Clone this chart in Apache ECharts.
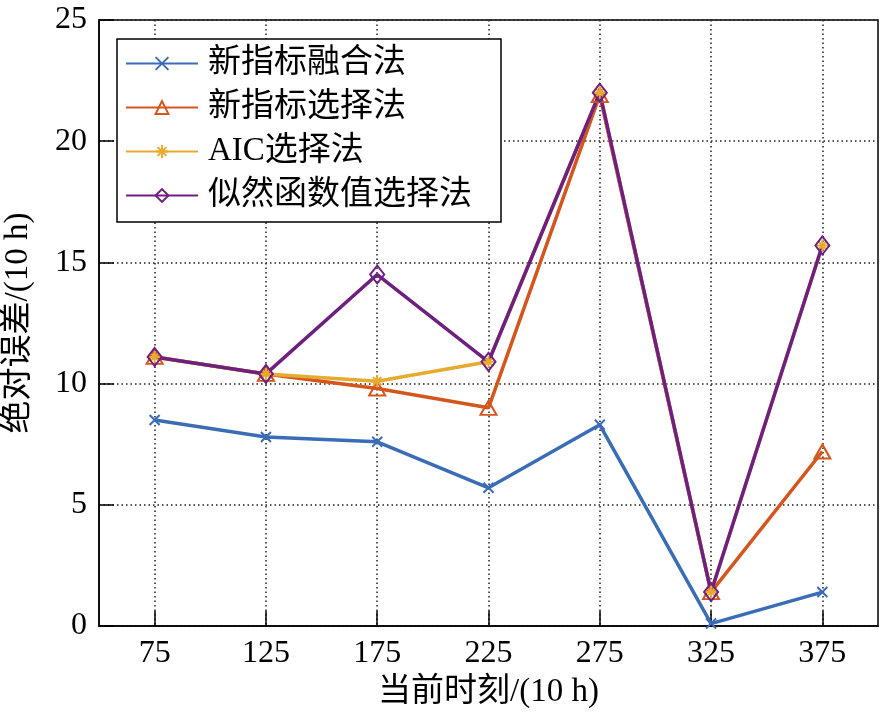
<!DOCTYPE html>
<html>
<head>
<meta charset="utf-8">
<script src="https://cdn.jsdelivr.net/npm/echarts@6/dist/echarts.min.js"></script>
<style>html,body{margin:0;padding:0;background:#fff;}#c{width:880px;height:718px;}</style>
</head>
<body>
<div id="c"></div>
<script>
const categories = ['75', '125', '175', '225', '275', '325', '375'];
const yTicks = [0, 5, 10, 15, 20, 25];
const seriesNames = ['新指标融合法', '新指标选择法', 'AIC选择法', '似然函数值选择法'];
const fusionValues = [8.5, 7.8, 7.6, 5.7, 8.3, 0.1, 1.4];
const newSelectValues = [11.1, 10.4, 9.8, 9.0, 21.9, 1.4, 7.2];
const aicValues = [11.1, 10.4, 10.1, 10.9, 22.0, 1.4, 15.7];
const likelihoodValues = [11.1, 10.4, 14.5, 10.9, 22.0, 1.4, 15.7];

const colors = ['#3a6db5', '#d2561e', '#e6ab2e', '#6e1f80'];
const FONT = '"Liberation Serif", "Noto Sans CJK SC", serif';

const crossPath = 'path://M0,0 L10,10 M10,0 L0,10';
const starPath = 'path://M5,0 L5,10 M0,5 L10,5 M1.6,1.6 L8.4,8.4 M8.4,1.6 L1.6,8.4';

function mkSeries(name, data, color, symbol, size, bw) {
  return {
    name: name,
    type: 'line',
    data: data,
    symbol: symbol,
    symbolSize: size,
    showSymbol: true,
    lineStyle: { color: color, width: 3.5 },
    itemStyle: { color: 'rgba(255,255,255,0)', borderColor: color, borderWidth: bw },
    emphasis: { disabled: true },
    animation: false
  };
}

const chart = echarts.init(document.getElementById('c'), null, { renderer: 'canvas' });
chart.setOption({
  backgroundColor: '#fff',
  animation: false,
  grid: {
    left: 99, right: 2, top: 20, bottom: 92,
    outerBoundsMode: 'none',
    containLabel: false,
    show: true, borderColor: '#000', borderWidth: 1.5, backgroundColor: '#fff'
  },
  legend: {
    orient: 'vertical',
    left: 117, top: 39,
    padding: [8, 29, 10, 8],
    itemGap: 11,
    itemWidth: 72, itemHeight: 16,
    borderColor: '#000', borderWidth: 1.5,
    backgroundColor: '#fff',
    textStyle: { fontFamily: FONT, fontSize: 33, color: '#000', padding: [0, 0, 0, 5] },
    data: seriesNames
  },
  xAxis: {
    type: 'category',
    data: categories,
    boundaryGap: true,
    name: '当前时刻/(10 h)',
    nameLocation: 'middle',
    nameGap: 50,
    nameTextStyle: { fontFamily: FONT, fontSize: 33, color: '#000' },
    axisLine: { lineStyle: { color: '#000', width: 1.5 } },
    axisTick: { show: true, inside: true, alignWithLabel: true, length: 15, lineStyle: { color: '#000', width: 1.5 } },
    axisLabel: { fontFamily: FONT, fontSize: 32, color: '#000', margin: 12 },
    splitLine: { show: true, alignWithLabel: true, lineStyle: { color: '#222', width: 1.5, type: [1.5, 3] } }
  },
  yAxis: {
    type: 'value',
    min: yTicks[0], max: yTicks[yTicks.length - 1], interval: 5,
    name: '绝对误差/(10 h)',
    nameLocation: 'middle',
    nameGap: 64,
    nameRotate: 90,
    nameTextStyle: { fontFamily: FONT, fontSize: 33, color: '#000' },
    axisLine: { show: true, lineStyle: { color: '#000', width: 1.5 } },
    axisTick: { show: true, inside: true, length: 15, lineStyle: { color: '#000', width: 1.5 } },
    axisLabel: { fontFamily: FONT, fontSize: 32, color: '#000', margin: 12 },
    splitLine: { show: true, lineStyle: { color: '#222', width: 1.5, type: [1.5, 3] } }
  },
  series: [
    mkSeries(seriesNames[0], fusionValues, colors[0], crossPath, 10, 2),
    mkSeries(seriesNames[1], newSelectValues, colors[1], 'triangle', [16, 14], 2),
    mkSeries(seriesNames[2], aicValues, colors[2], starPath, 12, 2),
    mkSeries(seriesNames[3], likelihoodValues, colors[3], 'diamond', [14, 18], 2)
  ]
});
</script>
</body>
</html>
